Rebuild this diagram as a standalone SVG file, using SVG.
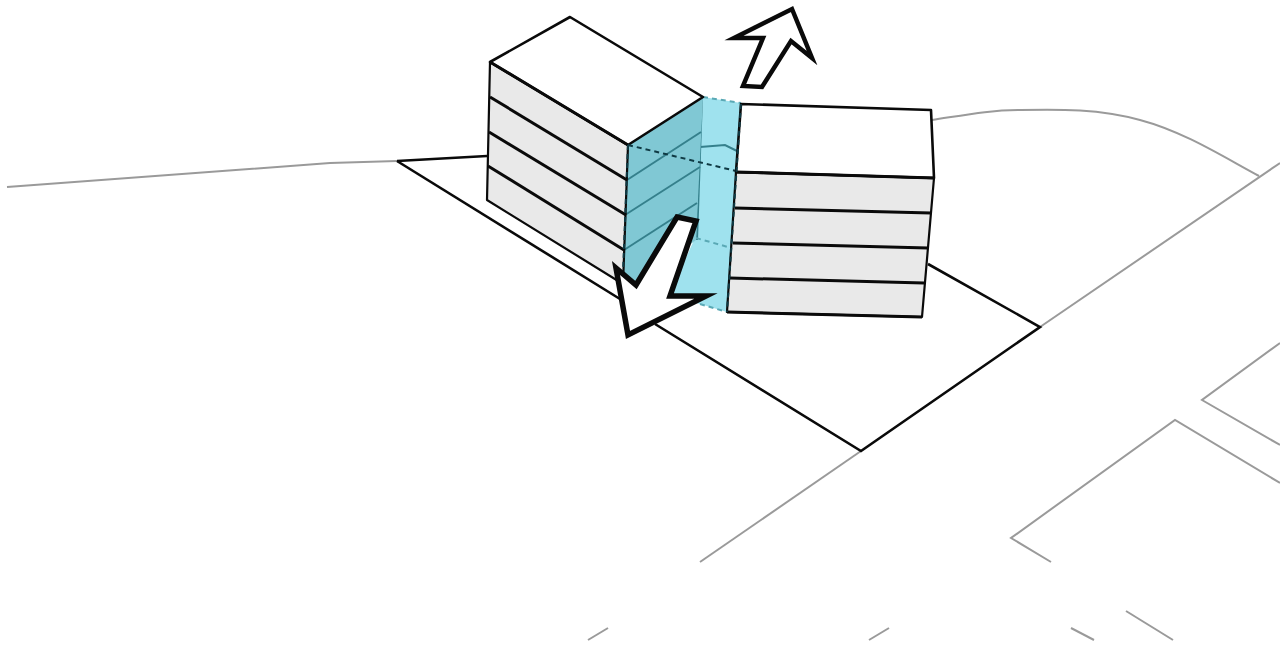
<svg xmlns="http://www.w3.org/2000/svg" width="1280" height="648" viewBox="0 0 1280 648">
<style>
.g{fill:none;stroke:#9a9a9a;stroke-width:2}
.k{fill:none;stroke:#0a0a0a;stroke-width:2.6}
.b{fill:none;stroke:#0a0a0a;stroke-width:3}
.f{fill:#e9e9e9;stroke:#0a0a0a;stroke-width:2.2;stroke-linejoin:round}
.w{fill:#fff;stroke:#0a0a0a;stroke-width:2.6;stroke-linejoin:round}
.t{fill:none;stroke:#35808c;stroke-width:2}
.d{fill:none;stroke:#0f3a44;stroke-width:2;stroke-dasharray:5 4}
.e{fill:none;stroke:#5aa9b5;stroke-width:2;stroke-dasharray:5 4}
.a{fill:#fff;stroke:#0a0a0a;stroke-linejoin:miter;stroke-miterlimit:10}
</style>
<rect width="1280" height="648" fill="#fff"/>
<g id="site-lines">
<path class="g" d="M7 187 L330 163 L397 161"/>
<path class="g" d="M932 120 C965 115 990 110 1020 110 C1060 109 1100 109 1140 120 C1185 132 1225 158 1259 176"/>
<path class="g" d="M1280 163 L1040 327"/>
<path class="g" d="M861 451 L700 562"/>
<path class="g" d="M1280 343 L1202 400 L1280 445"/>
<path class="g" d="M1280 483 L1175 420 L1011 538 L1051 562"/>
<path class="g" d="M608 628 L588 640"/>
<path class="g" d="M889 628 L869 640"/>
<path class="g" d="M1071 628 L1094 640"/>
<path class="g" d="M1126 611 L1173 640"/>
</g>
<g id="plot">
<path class="k" d="M397 161 L487 156"/>
<path class="k" d="M397 161 L620 299"/>
<path class="k" d="M655 324 L861 451 L1040 327 L928 264"/>
</g>
<g id="link">
<path d="M703 97 L741 103 L727 312 L700 304 L668 297 L695 238 Z" fill="#9fe2ee"/>
<path class="t" d="M702 97 L697 240"/>
<path class="t" d="M700 147 L725 145 L737 151"/>
<path class="e" d="M703 97 L741 103"/>
<path class="e" d="M696 238 L728 247"/>
<path class="e" d="M700 304 L727 312"/>
</g>
<g id="left-block">
<path d="M628 145 L703 97 L696 240 L636 285 L623 283 Z" fill="#80c8d4"/>
<path class="t" d="M627 180 L701 132"/>
<path class="t" d="M625 215 L700 167"/>
<path class="t" d="M624 250 L697 203"/>
<path class="f" d="M490 62 L628 145 L623 284 L487 200 Z"/>
<path class="b" d="M490 97 L627 180"/>
<path class="b" d="M489 132 L626 215"/>
<path class="b" d="M488 166 L624 250"/>
<path class="w" d="M490 62 L570 17 L703 97 L628 145 Z"/>
<path class="b" d="M490 62 L628 145"/>
<path class="d" d="M628 145 L623 272"/>
<path class="d" d="M628 145 L736 171"/>
</g>
<g id="right-block">
<path class="f" d="M736 172 L934 178 L922 317 L727 312 Z"/>
<path class="b" d="M735 208 L931 213"/>
<path class="b" d="M733 243 L928 248"/>
<path class="b" d="M730 278 L924 283"/>
<path class="w" d="M741 104 L931 110 L934 178 L736 172 Z"/>
<path class="b" d="M736 172 L934 178"/>
<path class="b" d="M727 312 L922 317"/>
<path class="d" d="M741 104 L727 312"/>
</g>
<g id="arrow-out">
<polygon class="a" stroke-width="4.5" points="763,38 743,86 762,87 791,41 812,58 792,9 734,38"/>
</g>
<g id="arrow-in">
<polygon class="a" stroke-width="5.5" points="677,217 696,221 670,296 706,296 628,335 616,268 636,285"/>
</g>
</svg>
